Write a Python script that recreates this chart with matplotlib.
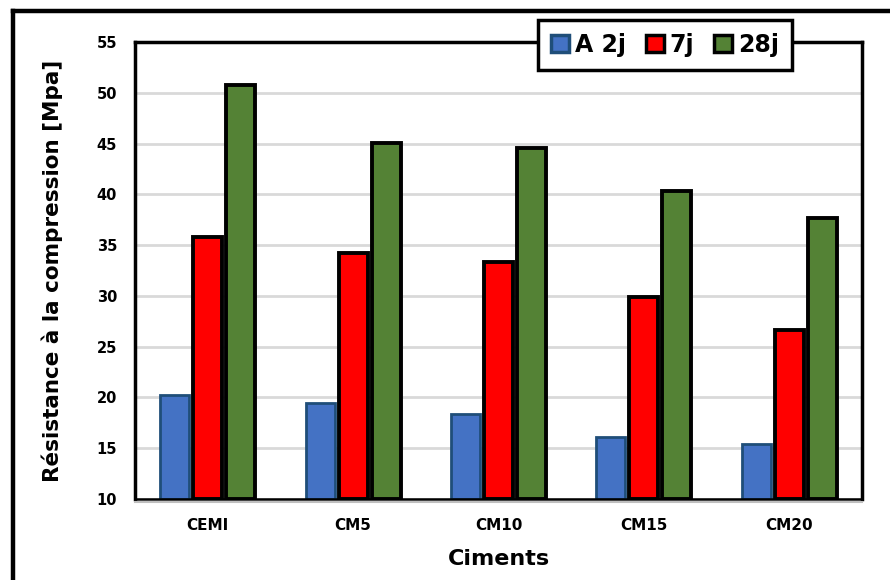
import matplotlib
matplotlib.use('Agg')
import matplotlib.pyplot as plt
from matplotlib.lines import Line2D
import numpy as np

ciments = ["CEMI", "CM5", "CM10", "CM15", "CM20"]
series_labels = ["A 2j", "7j", "28j"]
r2j = [20.2, 19.5, 18.4, 16.1, 15.4]
r7j = [35.8, 34.2, 33.3, 29.85, 26.6]
r28j = [50.8, 45.1, 44.6, 40.3, 37.7]

fills = ["#4472c4", "#ff0000", "#548235"]
edges = ["#1f4e79", "#000000", "#000000"]
edge_w = [2.0, 2.8, 2.8]

plt.rcParams['font.family'] = ['DejaVu Sans']
plt.rcParams['font.weight'] = 'bold'

fig = plt.figure(figsize=(8.9, 5.8), dpi=100)
ax = fig.add_axes([135/890, 1 - 499/580, 727/890, 457/580])

x = np.arange(len(ciments))
width = 0.2
step = 0.227
for i, vals in enumerate([r2j, r7j, r28j]):
    ax.bar(x + (i - 1) * step, np.array(vals) - 10, width, bottom=10,
           color=fills[i], edgecolor=edges[i], linewidth=edge_w[i],
           zorder=3, label=series_labels[i])

ax.set_xlim(-0.5, len(ciments) - 0.5)
ax.set_ylim(10, 55)
ax.set_yticks(range(10, 56, 5))
ax.set_xticks(x)
ax.set_xticklabels(ciments, fontsize=11, fontweight='bold')
ax.tick_params(axis='y', labelsize=10.5, length=0, pad=13)
ax.tick_params(axis='x', length=0, pad=14)
for lab in ax.get_yticklabels():
    lab.set_fontweight('bold')
ax.yaxis.grid(True, color='#d9d9d9', linewidth=2, zorder=0)
ax.set_axisbelow(True)

for side in ['left', 'top', 'right']:
    ax.spines[side].set_linewidth(2.5)
    ax.spines[side].set_color('black')
ax.spines['bottom'].set_linewidth(1.8)
ax.spines['bottom'].set_zorder(4)
# faint gray rule just below the baseline
fig.add_artist(Line2D([135/890, 862/890], [1 - 502/580, 1 - 502/580],
                      color='#bfbfbf', linewidth=1.5))

ax.set_ylabel("Résistance à la compression [Mpa]", fontsize=15.5,
              fontweight='bold', labelpad=24)
ax.set_xlabel("Ciments", fontsize=16, fontweight='bold', labelpad=11)

leg = ax.legend(loc='center', bbox_to_anchor=(665/890, 1 - 45/580),
                bbox_transform=fig.transFigure, ncol=3,
                frameon=True, fancybox=False, handlelength=0.75,
                handleheight=0.75, handletextpad=0.25, columnspacing=0.85,
                borderpad=0.55, prop={'weight': 'bold', 'size': 17})
leg.get_frame().set_edgecolor('black')
leg.get_frame().set_linewidth(2.5)
leg.get_frame().set_facecolor('white')
leg.get_frame().set_alpha(1)
for h in leg.legend_handles:
    h.set_linewidth(2.5)

# outer frame, left and top edges only
fig.add_artist(Line2D([13/890, 13/890], [0, 1 - 11/580], color='black', linewidth=3.2))
fig.add_artist(Line2D([13/890, 1], [1 - 11/580, 1 - 11/580], color='black', linewidth=3.2))

fig.savefig("out.png", dpi=100)
